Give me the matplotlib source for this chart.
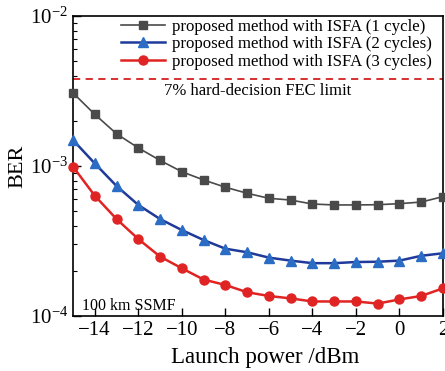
import matplotlib
matplotlib.use("Agg")
import matplotlib.pyplot as plt
from matplotlib.ticker import LogLocator, NullFormatter

power = [-15, -14, -13, -12, -11, -10, -9, -8, -7, -6, -5, -4, -3, -2, -1, 0, 1, 2]
ber_1cycle = [3.07e-3, 2.21e-3, 1.64e-3, 1.32e-3, 1.09e-3, 9.16e-4, 8.07e-4, 7.22e-4, 6.58e-4,
              6.09e-4, 5.93e-4, 5.58e-4, 5.50e-4, 5.50e-4, 5.52e-4, 5.61e-4, 5.75e-4, 6.25e-4]
ber_2cycles = [1.49e-3, 1.04e-3, 7.36e-4, 5.50e-4, 4.43e-4, 3.74e-4, 3.21e-4, 2.81e-4, 2.66e-4,
               2.45e-4, 2.34e-4, 2.25e-4, 2.25e-4, 2.29e-4, 2.30e-4, 2.34e-4, 2.52e-4, 2.62e-4]
ber_3cycles = [9.9e-4, 6.34e-4, 4.43e-4, 3.26e-4, 2.49e-4, 2.08e-4, 1.75e-4, 1.61e-4, 1.44e-4,
               1.36e-4, 1.31e-4, 1.25e-4, 1.25e-4, 1.25e-4, 1.21e-4, 1.29e-4, 1.36e-4, 1.53e-4]
fec_limit = 3.8e-3
labels = ["proposed method with ISFA (1 cycle)",
          "proposed method with ISFA (2 cycles)",
          "proposed method with ISFA (3 cycles)"]
xticks = [-14, -12, -10, -8, -6, -4, -2, 0, 2]

plt.rcParams["font.family"] = "Liberation Serif"
plt.rcParams["mathtext.fontset"] = "stix"

fig = plt.figure(figsize=(4.45, 3.71), dpi=100)
ax = fig.add_axes([73 / 445, 1 - 316 / 371, 370 / 445, 300 / 371])

ax.plot(power, ber_1cycle, color="#4a4a4a", lw=1.2, marker="s", ms=5.5,
        label=labels[0], clip_on=False, zorder=3)
ax.plot(power, ber_2cycles, color="#1f3a9a", lw=1.8, marker="^", ms=6.5,
        mfc="#2b6cc4", mec="#2b6cc4", label=labels[1], clip_on=False, zorder=3)
ax.plot(power, ber_3cycles, color="#e02424", lw=1.8, marker="o", ms=6.5,
        label=labels[2], clip_on=False, zorder=3)
ax.axhline(fec_limit, color="#d42020", lw=1.3, ls=(0, (4, 3)))

ax.set_yscale("log")
ax.set_xlim(-15, 2)
ax.set_ylim(1e-4, 1e-2)
ax.set_xticks(xticks)
ax.set_xticklabels([str(t).replace("-", "\u2212") for t in xticks])
ax.yaxis.set_major_locator(LogLocator(base=10, numticks=5))
ax.yaxis.set_minor_locator(LogLocator(base=10, subs=range(2, 10), numticks=20))
ax.yaxis.set_minor_formatter(NullFormatter())
ax.tick_params(which="both", direction="in", labelsize=15)
ax.tick_params(which="major", length=6, width=1)
ax.tick_params(which="minor", length=3, width=0.8)
for s in ax.spines.values():
    s.set_linewidth(1.2)

ax.set_xlabel("Launch power /dBm", fontsize=16.5)
ax.xaxis.set_label_coords(0.52, -0.105)
ax.set_ylabel("BER", fontsize=16, labelpad=2)

ax.text(-10.8, 3.15e-3, "7% hard-decision FEC limit", fontsize=12, va="center")
ax.text(-14.6, 1.1e-4, "100 km SSMF", fontsize=11.5)

ax.legend(loc="upper left", bbox_to_anchor=(0.13, 0.99), frameon=False, fontsize=12.2,
          handlelength=2.6, handletextpad=0.4, labelspacing=0.08,
          borderpad=0, borderaxespad=0)

fig.savefig("out.png", dpi=100)
